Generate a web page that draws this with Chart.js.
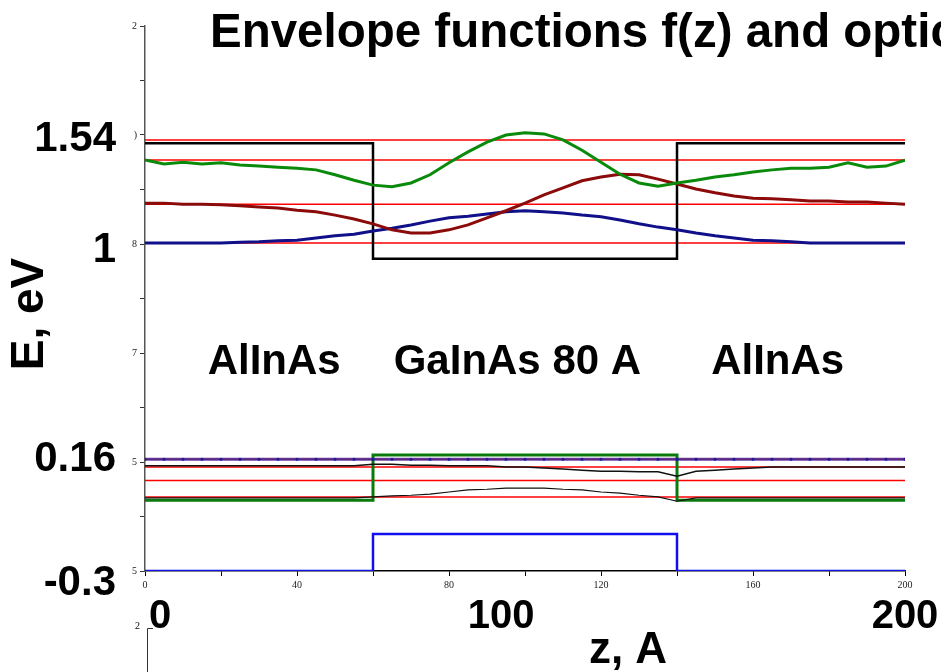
<!DOCTYPE html>
<html>
<head>
<meta charset="utf-8">
<title>Envelope functions f(z) and optical transitions</title>
<script src="https://cdn.jsdelivr.net/npm/chart.js@4.4.0/dist/chart.umd.min.js"></script>
<style>
  html, body { margin: 0; padding: 0; background: #fff; }
  #wrap { width: 941px; height: 672px; }
</style>
</head>
<body>
<div id="wrap"><canvas id="envChart" width="941" height="672"></canvas></div>
<script>
/* Envelope functions in an 80 A GaInAs / AlInAs quantum well */

// z grid, angstrom
const zGrid = [0, 5, 10, 15, 20, 25, 30, 35, 40, 45, 50, 55, 60, 65, 70, 75, 80, 85, 90, 95,
  100, 105, 110, 115, 120, 125, 130, 135, 140, 145, 150, 155, 160, 165, 170, 175, 180, 185, 190, 195, 200];

// envelope curves (plot units)
const greenF = [7.54, 7.47, 7.50, 7.47, 7.49, 7.45, 7.43, 7.41, 7.39, 7.36, 7.27, 7.17, 7.08, 7.05,
  7.12, 7.27, 7.49, 7.69, 7.87, 8.00, 8.04, 8.02, 7.91, 7.72, 7.50, 7.28, 7.12, 7.06, 7.12, 7.17,
  7.23, 7.27, 7.32, 7.36, 7.39, 7.39, 7.41, 7.49, 7.41, 7.43, 7.54];
const maroonF = [6.75, 6.75, 6.73, 6.73, 6.72, 6.70, 6.68, 6.66, 6.62, 6.59, 6.53, 6.46, 6.37, 6.26,
  6.20, 6.20, 6.26, 6.35, 6.48, 6.61, 6.75, 6.90, 7.03, 7.16, 7.23, 7.28, 7.27, 7.19, 7.10, 7.01,
  6.94, 6.88, 6.84, 6.83, 6.81, 6.79, 6.79, 6.77, 6.77, 6.75, 6.73];
const navyF = [6.02, 6.02, 6.02, 6.02, 6.02, 6.03, 6.04, 6.06, 6.07, 6.11, 6.15, 6.18, 6.24, 6.29,
  6.35, 6.42, 6.48, 6.51, 6.55, 6.59, 6.61, 6.59, 6.57, 6.53, 6.50, 6.44, 6.37, 6.31, 6.26, 6.20,
  6.15, 6.11, 6.07, 6.06, 6.04, 6.02, 6.02, 6.02, 6.02, 6.02, 6.02];
const holeTop = [1.93, 1.93, 1.93, 1.93, 1.93, 1.93, 1.93, 1.93, 1.93, 1.93, 1.93, 1.93, 1.96, 1.96,
  1.94, 1.94, 1.93, 1.93, 1.93, 1.91, 1.91, 1.89, 1.87, 1.85, 1.83, 1.83, 1.82, 1.82, 1.74, 1.83,
  1.85, 1.87, 1.89, 1.91, 1.91, 1.91, 1.91, 1.91, 1.91, 1.91, 1.91];
const holeBottom = [1.34, 1.34, 1.34, 1.34, 1.34, 1.34, 1.34, 1.34, 1.34, 1.34, 1.34, 1.34, 1.36, 1.38,
  1.39, 1.41, 1.45, 1.49, 1.50, 1.52, 1.52, 1.52, 1.50, 1.49, 1.45, 1.43, 1.39, 1.36, 1.28, 1.34,
  1.34, 1.34, 1.34, 1.34, 1.34, 1.34, 1.34, 1.34, 1.34, 1.34, 1.34];

// band edges (steps at the well walls)
const stepZ = [0, 60, 60, 140, 140, 200];
const conductionBand = [7.85, 7.85, 5.73, 5.73, 7.85, 7.85];
const valenceBand = [1.30, 1.30, 2.13, 2.13, 1.30, 1.30];
const lowerStep = [0, 0, 0.68, 0.68, 0, 0];

// energy levels (red) and the dotted level
const levelZ = [0, 200];
const redLevels = [7.91, 7.54, 6.73, 6.02, 2.05, 1.91, 1.66, 1.36];
const dottedLevel = 2.05;

// tick labels
const xTickLabels = { 0: "0", 40: "40", 80: "80", 120: "120", 160: "160", 200: "200" };
const yTickLabels = { 0: "5", 2: "5", 4: "7", 6: "8", 8: ")", 10: "2" };
const bigZLabels = ["0", "100", "200"];
const bigZLabelAt = [4, 93.7, 200];
const energyLabels = ["1.54", "1", "0.16", "-0.3"];
const energyLabelAt = [7.91, 5.89, 2.04, -0.22];
const regionLabels = ["AlInAs", "GaInAs 80 A", "AlInAs"];
const regionLabelZ = [34, 98, 166.5];
const regionLabelY = 3.83;

const SANS = "'Liberation Sans', Arial, sans-serif";
const SERIF = "'Liberation Serif', 'Times New Roman', serif";

const pts = (xs, ys) => xs.map((x, i) => ({ x, y: ys[i] }));

const line = (data, color, width, extra = {}) => ({
  data,
  borderColor: color,
  borderWidth: width,
  pointRadius: 0,
  tension: 0,
  fill: false,
  ...extra,
});

const datasets = [
  line(pts(zGrid, greenF), "#0a8a0a", 3),
  line(pts(zGrid, maroonF), "#8b0a0a", 3),
  line(pts(zGrid, navyF), "#10108a", 3),
  line(pts(stepZ, conductionBand), "#000000", 2.5),
  line(pts(zGrid, zGrid.map(() => dottedLevel)), "rgba(70,40,150,0.85)", 3, {
    pointRadius: 1.5,
    pointBackgroundColor: "#1a1aa0",
    pointBorderWidth: 0,
  }),
  line(pts(zGrid, holeTop), "#111111", 1.5),
  line(pts(zGrid, holeBottom), "#111111", 1.2),
  line(pts(stepZ, valenceBand), "#0a7a0a", 3),
  line(pts(stepZ, lowerStep), "#1010ee", 2.5),
  ...redLevels.map((lv) => line(pts(levelZ, [lv, lv]), "#ff0000", 1.5)),
];

const textLayer = {
  id: "textLayer",
  afterDraw(chart) {
    const { ctx, scales: { x, y } } = chart;
    ctx.save();
    ctx.fillStyle = "#000";
    ctx.textBaseline = "middle";

    ctx.font = "bold 47.5px " + SANS;
    ctx.textAlign = "left";
    ctx.fillText("Envelope functions f(z) and optical transitions", 210, 34);

    ctx.font = "bold 42px " + SANS;
    ctx.textAlign = "right";
    energyLabels.forEach((t, i) => ctx.fillText(t, 116, y.getPixelForValue(energyLabelAt[i])));

    ctx.textAlign = "center";
    regionLabels.forEach((t, i) =>
      ctx.fillText(t, x.getPixelForValue(regionLabelZ[i]), y.getPixelForValue(regionLabelY)));

    ctx.font = "bold 44px " + SANS;
    ctx.fillText("z, A", 628, 651);

    ctx.save();
    ctx.translate(30, 314);
    ctx.rotate(-Math.PI / 2);
    ctx.font = "bold 46px " + SANS;
    ctx.fillText("E, eV", 0, 0);
    ctx.restore();

    // start of the next plot's axis, cut by the frame
    ctx.strokeStyle = "#333";
    ctx.lineWidth = 1;
    ctx.beginPath();
    ctx.moveTo(147.5, 672);
    ctx.lineTo(147.5, 628.5);
    ctx.lineTo(153, 628.5);
    ctx.stroke();
    ctx.font = "10px " + SERIF;
    ctx.textAlign = "right";
    ctx.fillText("2", 140, 626);
    ctx.restore();
  },
};

new Chart(document.getElementById("envChart"), {
  type: "line",
  data: { datasets },
  plugins: [textLayer],
  options: {
    responsive: false,
    animation: false,
    layout: { padding: { top: 26, right: 36, bottom: 0, left: 0 } },
    plugins: { legend: { display: false }, tooltip: { enabled: false } },
    scales: {
      x: {
        type: "linear",
        position: "bottom",
        min: 0,
        max: 200,
        afterFit: (s) => { s.height = 22; },
        border: { display: true, color: "#000", width: 1.5 },
        grid: { display: true, drawOnChartArea: false, tickLength: 5, color: "#000" },
        ticks: {
          stepSize: 20,
          autoSkip: false,
          maxRotation: 0,
          padding: 3,
          color: "#222",
          font: { family: SERIF, size: 10 },
          callback: (v) => xTickLabels[v] ?? "",
        },
      },
      x2: {
        type: "linear",
        position: "bottom",
        weight: 1,
        min: 0,
        max: 200,
        afterFit: (s) => { s.height = 79; s.paddingLeft = 0; s.paddingRight = 0; },
        afterBuildTicks: (s) => { s.ticks = bigZLabelAt.map((value) => ({ value })); },
        border: { display: false },
        grid: { display: false, drawTicks: false },
        ticks: {
          autoSkip: false,
          maxRotation: 0,
          padding: 4,
          color: "#000",
          font: { family: SANS, size: 40, weight: "bold", lineHeight: 1 },
          callback: (v, i) => bigZLabels[i] ?? "",
        },
      },
      y: {
        type: "linear",
        min: 0,
        max: 10,
        afterFit: (s) => { s.width = 145; },
        border: { display: true, color: "#555", width: 1.5 },
        grid: { display: true, drawOnChartArea: false, tickLength: 5, color: "#333" },
        ticks: {
          stepSize: 1,
          autoSkip: false,
          padding: 3,
          color: "#222",
          font: { family: SERIF, size: 10 },
          callback: (v) => yTickLabels[v] ?? "",
        },
      },
    },
  },
});
</script>
</body>
</html>
